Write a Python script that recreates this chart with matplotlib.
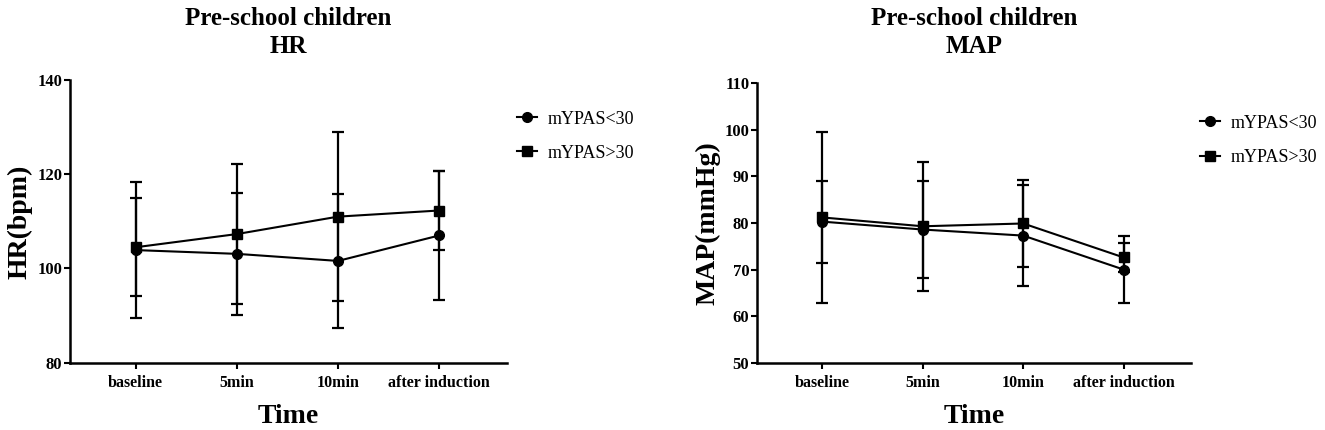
import matplotlib
matplotlib.use('Agg')
import matplotlib.pyplot as plt

plt.rcParams['font.family'] = 'Liberation Serif'

times = ['baseline', '5min', '10min', 'after induction']
groups = ['mYPAS<30', 'mYPAS>30']

# HR (bpm), mean and SD
hr_lt30 = [103.9, 103.1, 101.6, 107.0]
hr_lt30_sd = [14.4, 12.9, 14.3, 13.6]
hr_gt30 = [104.5, 107.3, 111.0, 112.3]
hr_gt30_sd = [10.4, 14.9, 17.9, 8.4]

# MAP (mmHg), mean and SD
map_lt30 = [80.3, 78.6, 77.3, 70.0]
map_lt30_sd = [8.8, 10.5, 10.9, 7.2]
map_gt30 = [81.2, 79.3, 79.9, 72.6]
map_gt30_sd = [18.4, 13.9, 9.3, 3.2]

fig = plt.figure(figsize=(13.25, 4.3), dpi=100)
ax1 = fig.add_axes([0.0528, 0.1565, 0.3298, 0.6575])
ax2 = fig.add_axes([0.5713, 0.1565, 0.3276, 0.6497])

panels = [
    (ax1, 'HR', 'HR(bpm)', hr_lt30, hr_lt30_sd, hr_gt30, hr_gt30_sd,
     (80, 140), [80, 100, 120, 140], (0.390, 0.743)),
    (ax2, 'MAP', 'MAP(mmHg)', map_lt30, map_lt30_sd, map_gt30, map_gt30_sd,
     (50, 110), [50, 60, 70, 80, 90, 100, 110], (0.906, 0.733)),
]

x = list(range(len(times)))

for ax, title, ylabel, m1, s1, m2, s2, ylim, yticks, leg_pos in panels:
    ax.errorbar(x, m1, yerr=s1, color='black', marker='o', markersize=7,
                linewidth=1.5, elinewidth=1.6, capsize=4, capthick=1.6,
                label=groups[0], clip_on=False, zorder=3)
    ax.errorbar(x, m2, yerr=s2, color='black', marker='s', markersize=7,
                linewidth=1.5, elinewidth=1.6, capsize=4, capthick=1.6,
                label=groups[1], clip_on=False, zorder=3)

    ax.set_xlim(-0.65, 3.67)
    ax.set_ylim(*ylim)
    ax.set_yticks(yticks)
    ax.set_xticks(x)
    ax.set_xticklabels(times, fontsize=11.5, fontweight='bold')
    for lab in ax.get_yticklabels():
        lab.set_fontsize(12)
        lab.set_fontweight('bold')

    ax.spines['top'].set_visible(False)
    ax.spines['right'].set_visible(False)
    ax.spines['left'].set_linewidth(1.8)
    ax.spines['bottom'].set_linewidth(1.8)
    ax.tick_params(axis='y', length=4.5, width=1.5, pad=1)
    ax.tick_params(axis='x', length=4, width=1.5, pad=5)

    ax.set_ylabel(ylabel, fontsize=20, fontweight='bold')
    ax.yaxis.set_label_coords(-0.085, 0.5)
    ax.set_xlabel('Time', fontsize=20, fontweight='bold', labelpad=9.5)

    # two-line title, centred over the axes
    pos = ax.get_position()
    cx = (pos.x0 + pos.x1) / 2
    fig.text(cx, 1 - 25 / 430, 'Pre-school children', ha='center', va='baseline',
             fontsize=18, fontweight='bold')
    fig.text(cx, 1 - 53 / 430, title, ha='center', va='baseline',
             fontsize=18, fontweight='bold')

    handles, labels = ax.get_legend_handles_labels()
    handles = [h[0] for h in handles]
    ax.legend(handles, labels, loc='upper left', bbox_to_anchor=leg_pos,
              bbox_transform=fig.transFigure, frameon=False, fontsize=13,
              handlelength=1.1, handletextpad=0.6, labelspacing=0.95,
              borderpad=0, borderaxespad=0)

fig.savefig('out.png', dpi=100)
